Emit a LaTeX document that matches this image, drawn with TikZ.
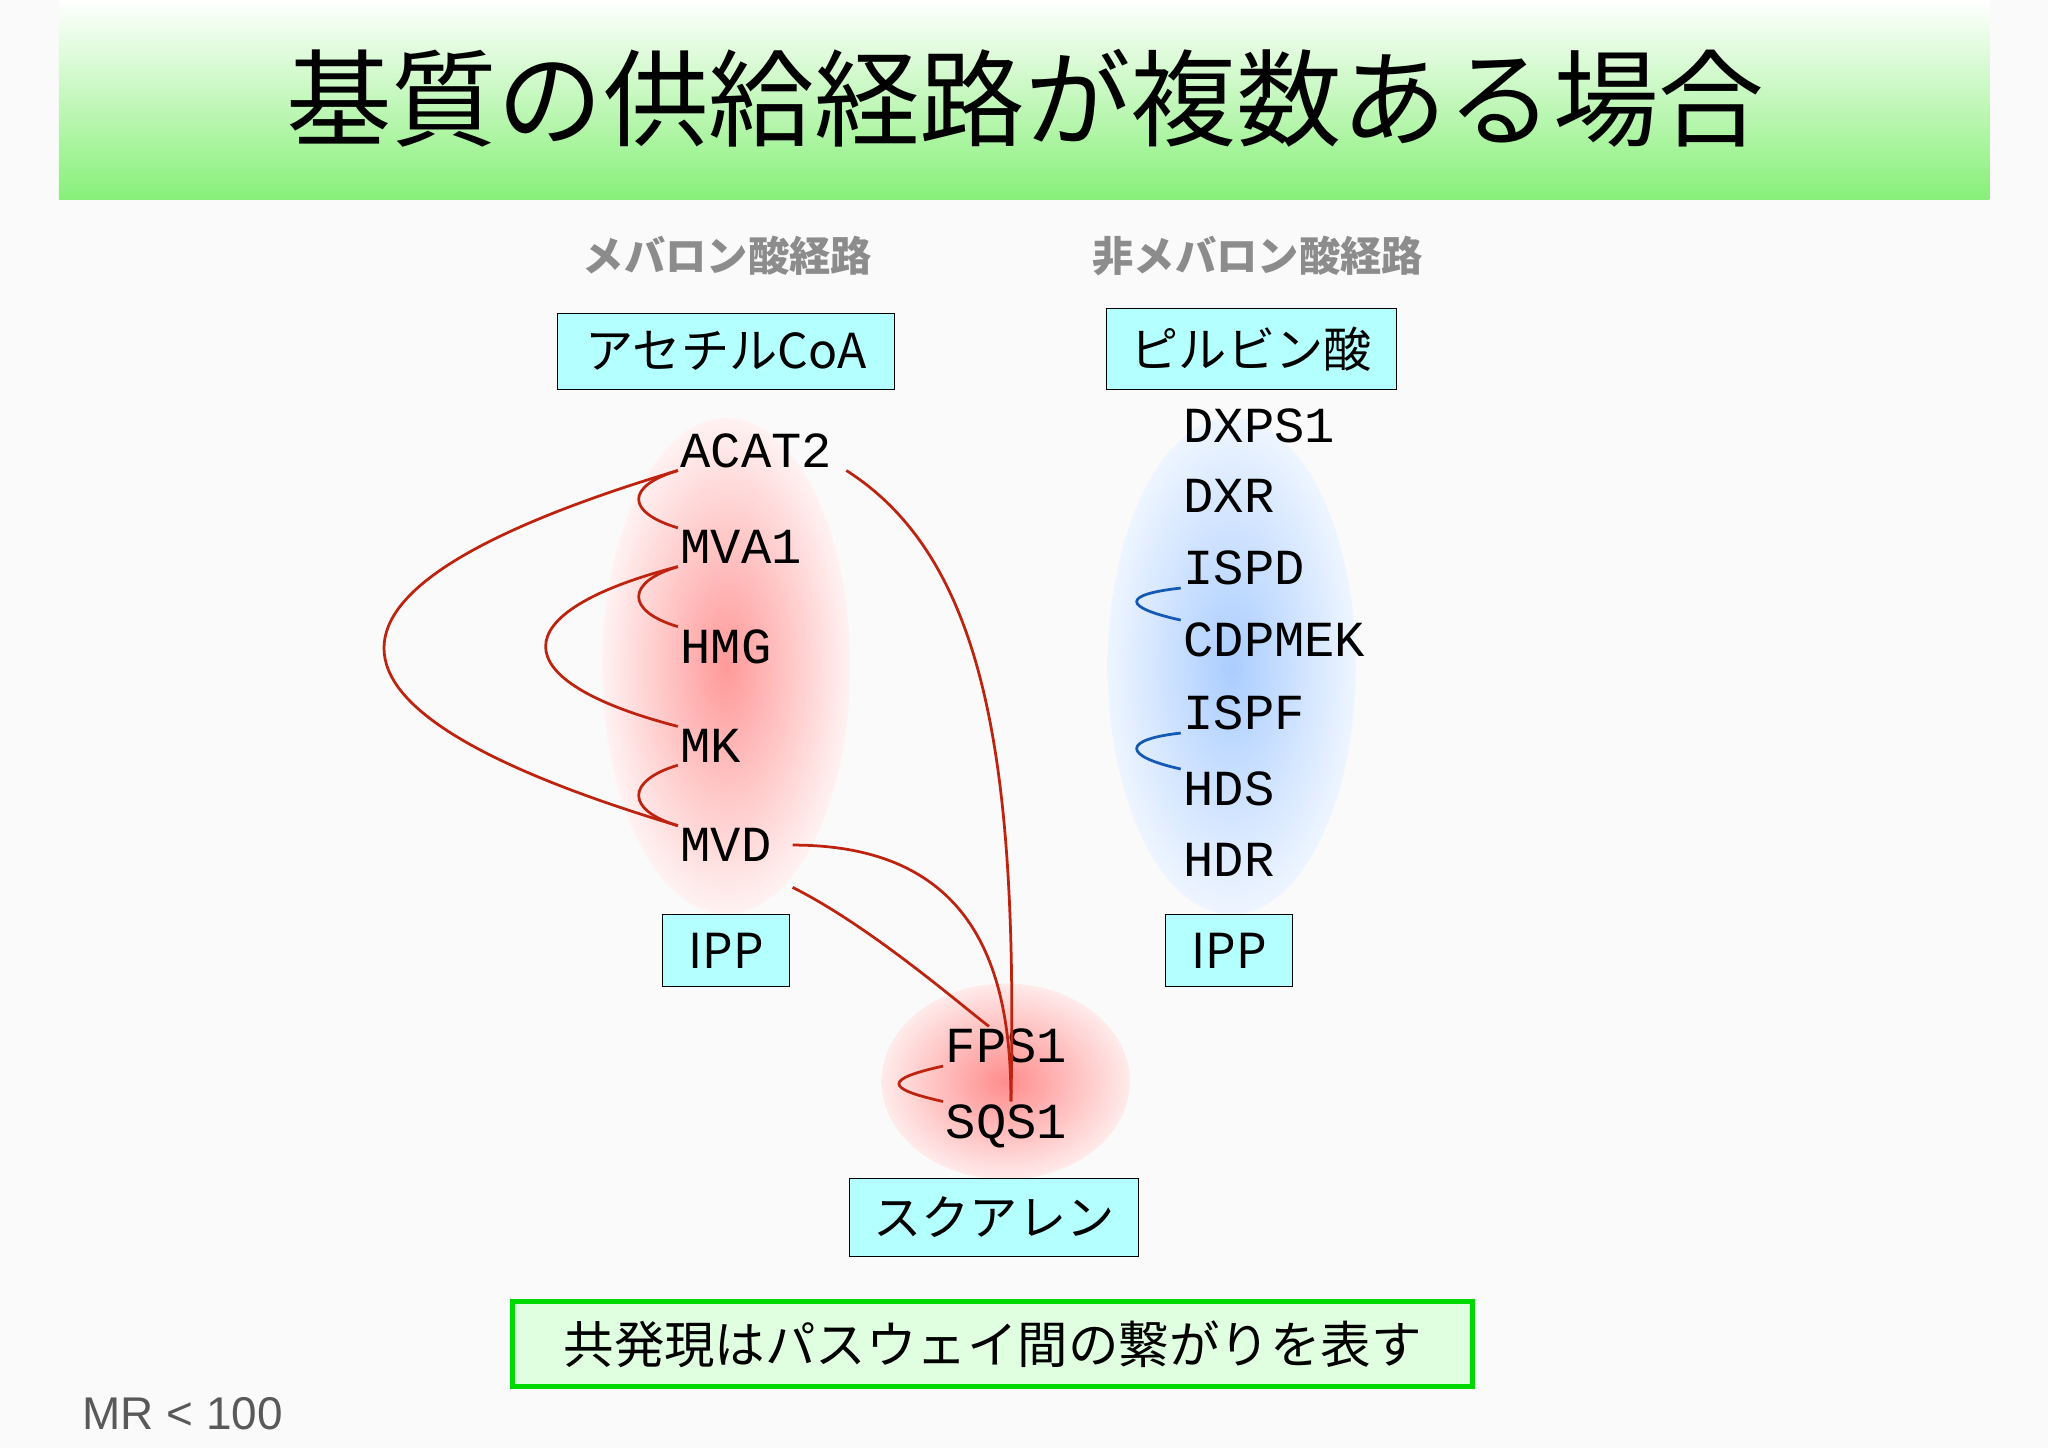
\documentclass[tikz,border=0pt]{standalone}
\usepackage{fontspec}
\setmainfont{Liberation Sans}
\newfontfamily\cjk{Noto Sans CJK JP}
\newfontfamily\gene{Liberation Mono}
\usetikzlibrary{positioning}
\definecolor{pathred}{RGB}{190,35,15}
\definecolor{pathblue}{RGB}{20,90,180}
\definecolor{boxcyan}{RGB}{180,255,255}
\definecolor{titlegreen}{RGB}{135,240,120}
\definecolor{skyblue}{RGB}{170,205,255}
\tikzset{
  gene/.style={anchor=west, inner sep=1pt, font=\gene\fontsize{22}{22}\selectfont},
  metab/.style={draw, fill=boxcyan, minimum height=1.1cm, inner sep=8pt, font=\cjk\fontsize{21}{21}\selectfont},
  header/.style={text=black!45, font=\cjk\bfseries\fontsize{18}{18}\selectfont},
  link/.style={pathred, line width=1.2pt},
  blink/.style={pathblue, line width=1.2pt}
}
\begin{document}
\begin{tikzpicture}[x=0.02cm, y=-0.02cm]
	\useasboundingbox (0,0) rectangle (1568,1108.6);
	\fill[white!98!black] (0,0) rectangle (1568,1108.6);
	\shade[top color=white, bottom color=titlegreen] (45,0) rectangle (1523,153);
	\node[font=\cjk\fontsize{46}{46}\selectfont] (title) at (785,75) {基質の供給経路が複数ある場合};

	% shaded groups
	\shade[inner color=red!40, outer color=red!5] (556,510) ellipse [x radius=95, y radius=190];
	\shade[inner color=skyblue, outer color=skyblue!20] (943,510) ellipse [x radius=95, y radius=190];
	\shade[inner color=red!45, outer color=red!8] (770,828) ellipse [x radius=95, y radius=75];

	\node[header] (mev) at (557,196) {メバロン酸経路};
	\node[header] (nonmev) at (963,196) {非メバロン酸経路};

	\node[metab, minimum width=5.16cm] (acoa) at (556,269) {アセチルCoA};
	\node[metab, minimum width=4.44cm] (pyr) at (958,267) {ピルビン酸};
	\node[metab, minimum width=1.94cm] (ipp1) at (556,728) {IPP};
	\node[metab, minimum width=1.94cm] (ipp2) at (941,728) {IPP};
	\node[metab, minimum width=4.42cm] (sq) at (761,932) {スクアレン};

	% mevalonate genes
	\node[gene] (acat2) at (519,345) {ACAT2};
	\node[gene] (mva1) at (519,419) {MVA1};
	\node[gene] (hmg) at (519,495) {HMG};
	\node[gene] (mk) at (519,571) {MK};
	\node[gene] (mvd) at (519,647) {MVD};
	% non-mevalonate genes
	\node[gene] (dxps1) at (904,326) {DXPS1};
	\node[gene] (dxr) at (904,380) {DXR};
	\node[gene] (ispd) at (904,435) {ISPD};
	\node[gene] (cdpmek) at (904,490) {CDPMEK};
	\node[gene] (ispf) at (904,546) {ISPF};
	\node[gene] (hds) at (904,604) {HDS};
	\node[gene] (hdr) at (904,658) {HDR};
	% squalene genes
	\node[gene] (fps1) at (722,801) {FPS1};
	\node[gene] (sqs1) at (722,862) {SQS1};
	\coordinate (sqtop) at ([xshift=2]sqs1.north);

	\draw[link] (acat2.south west) .. controls +(-40,12) and +(-40,-12) .. (mva1.north west);
	\draw[link] (mva1.south west) .. controls +(-40,12) and +(-40,-12) .. (hmg.north west);
	\draw[link] (mk.south west) .. controls +(-40,12) and +(-40,-12) .. (mvd.north west);
	\draw[link] (acat2.south west) .. controls +(-300,90) and +(-300,-90) .. (mvd.north west);
	\draw[link] (mva1.south west) .. controls +(-135,35) and +(-135,-35) .. (mk.north west);
	\draw[link] ([xshift=5]acat2.south east) .. controls +(110,70) and +(5,-250) .. (sqtop);
	\draw[link] ([xshift=8]mvd.east) .. controls +(140,0) and +(0,-100) .. (sqtop);
	\draw[link] ([xshift=8,yshift=-10]mvd.south east) .. controls +(60,30) and +(-20,-15) .. ([xshift=20]fps1.north west);
	\draw[link] (fps1.south west) .. controls +(-45,10) and +(-45,-10) .. (sqs1.north west);
	\draw[blink] (ispd.south west) .. controls +(-45,5) and +(-45,-10) .. (cdpmek.north west);
	\draw[blink] (ispf.south west) .. controls +(-45,5) and +(-45,-10) .. (hds.north west);

	\node[draw=green!85!black, line width=2pt, fill=green!12, minimum width=14.7cm, minimum height=1.3cm, font=\cjk\fontsize{22}{22}\selectfont] (note) at (760,1029) {共発現はパスウェイ間の繋がりを表す};
	\node[text=black!65, font=\fontsize{20}{20}\selectfont] (mr) at (140,1082) {MR < 100};
\end{tikzpicture}
\end{document}
